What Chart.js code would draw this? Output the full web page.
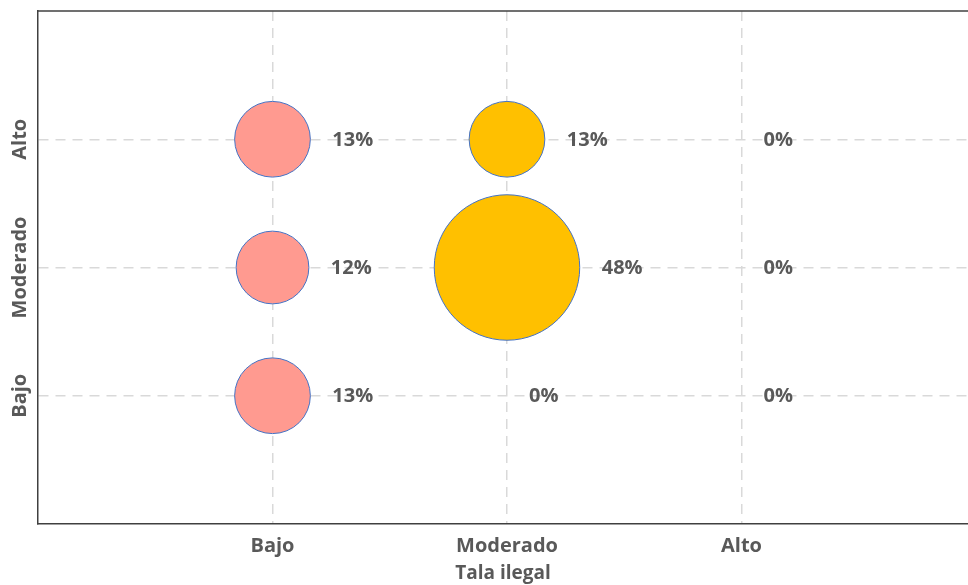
<!DOCTYPE html>
<html>
<head>
<meta charset="utf-8">
<script src="https://cdn.jsdelivr.net/npm/chart.js@4/dist/chart.umd.min.js"></script>
<style>
    html, body { margin: 0; padding: 0; background: #fff; }
    #wrap { width: 968px; height: 585px; }
</style>
</head>
<body>
<div id="wrap"><canvas id="bubbleChart"></canvas></div>
<script>
// Categories (both axes use the same levels)
const levels = ['Bajo', 'Moderado', 'Alto'];
const xTitle = 'Tala ilegal';

// Percentages per "Tala ilegal" column, ordered Bajo, Moderado, Alto on the y axis
const bajoValues = [13, 12, 13];
const moderadoValues = [0, 48, 13];
const altoValues = [0, 0, 0];

const textColor = '#595959';
const fontFamily = '"Open Sans", "DejaVu Sans", sans-serif';
const radiusScale = 10.5;

// bubbles may hang over the plot edge, no extra padding for them
Chart.registry.getController('bubble').prototype.getMaxOverflow = function() { return 0; };

function buildPoints(xIndex, values) {
    return values.map((v, i) => ({ x: xIndex + 1, y: i + 1, r: Math.sqrt(v) * radiusScale, v: v }));
}

// Draws the "13%" style labels to the right of each bubble
const valueLabels = {
    id: 'valueLabels',
    afterDatasetsDraw(chart) {
        const ctx = chart.ctx;
        ctx.save();
        ctx.font = 'bold 20px ' + fontFamily;
        ctx.fillStyle = textColor;
        ctx.textAlign = 'left';
        ctx.textBaseline = 'middle';
        chart.data.datasets.forEach((ds, di) => {
            chart.getDatasetMeta(di).data.forEach((el, i) => {
                const p = ds.data[i];
                ctx.fillText(p.v + '%', el.x + p.r + 22, el.y + 1);
            });
        });
        ctx.restore();
    }
};

// Frame line on top and rotated y labels
const frame = {
    id: 'frame',
    afterDraw(chart) {
        const ctx = chart.ctx;
        const a = chart.chartArea;
        ctx.save();
        ctx.strokeStyle = '#404040';
        ctx.lineWidth = 1.5;
        ctx.beginPath();
        ctx.moveTo(a.left, a.top);
        ctx.lineTo(a.right, a.top);
        ctx.stroke();

        const yScale = chart.scales.y;
        ctx.font = 'bold 20px ' + fontFamily;
        ctx.fillStyle = textColor;
        ctx.textAlign = 'center';
        ctx.textBaseline = 'middle';
        levels.forEach((lab, i) => {
            ctx.save();
            ctx.translate(20, yScale.getPixelForValue(i + 1));
            ctx.rotate(-Math.PI / 2);
            ctx.fillText(lab, 0, 0);
            ctx.restore();
        });
        ctx.restore();
    }
};

new Chart(document.getElementById('bubbleChart'), {
    type: 'bubble',
    data: {
        datasets: [
            {
                data: buildPoints(0, bajoValues),
                backgroundColor: '#FF9A90',
                borderColor: '#4472C4',
                borderWidth: 1
            },
            {
                data: buildPoints(1, moderadoValues),
                backgroundColor: '#FFC000',
                borderColor: '#4472C4',
                borderWidth: 1
            },
            {
                data: buildPoints(2, altoValues),
                backgroundColor: '#A5A5A5',
                borderColor: '#4472C4',
                borderWidth: 1
            }
        ]
    },
    options: {
        responsive: true,
        maintainAspectRatio: false,
        animation: false,
        layout: { padding: { top: 11, right: 0, bottom: 0, left: 0 } },
        plugins: {
            legend: { display: false },
            tooltip: { enabled: false }
        },
        scales: {
            x: {
                type: 'linear',
                min: 0,
                max: 3.966,
                afterBuildTicks: scale => { scale.ticks = [1, 2, 3].map(v => ({ value: v })); },
                afterFit: scale => { scale.height = 61; },
                ticks: {
                    callback: v => levels[v - 1],
                    color: textColor,
                    font: { family: fontFamily, size: 20, weight: 'bold' },
                    padding: 10,
                    maxRotation: 0,
                    autoSkip: false
                },
                grid: {
                    color: '#D9D9D9',
                    lineWidth: 1.5,
                    drawTicks: false
                },
                border: { color: '#404040', width: 1.5, dash: [10, 7] },
                title: {
                    display: true,
                    text: xTitle,
                    color: textColor,
                    font: { family: fontFamily, size: 19, weight: 'bold' },
                    padding: { top: 0, bottom: 0 }
                }
            },
            y: {
                type: 'linear',
                min: 0,
                max: 4,
                afterBuildTicks: scale => { scale.ticks = [1, 2, 3].map(v => ({ value: v })); },
                afterFit: scale => { scale.width = 38; },
                ticks: { display: false },
                grid: {
                    color: '#D9D9D9',
                    lineWidth: 1.5,
                    drawTicks: false
                },
                border: { color: '#404040', width: 1.5, dash: [10, 7] }
            }
        }
    },
    plugins: [valueLabels, frame]
});
</script>
</body>
</html>
